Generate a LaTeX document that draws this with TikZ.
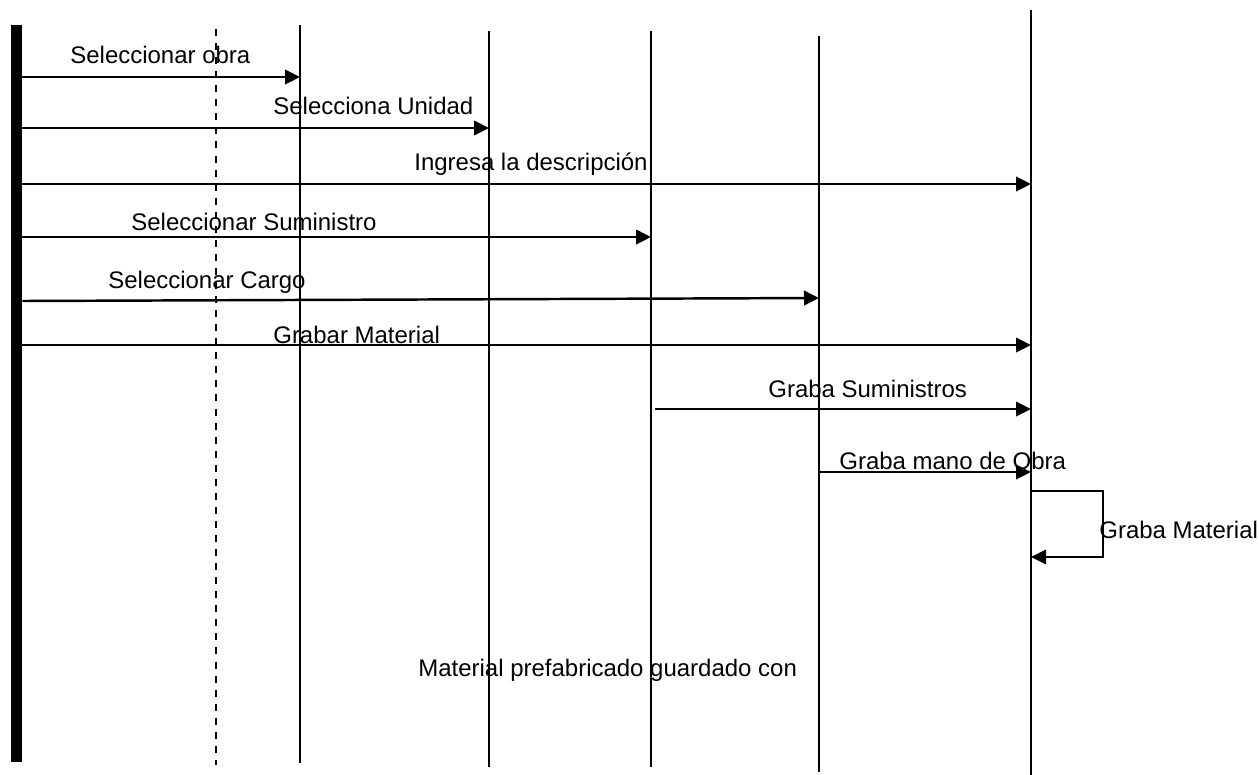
\documentclass[tikz,border=0pt]{standalone}
\usepackage{fontspec}
\setmainfont{Liberation Sans}
\usetikzlibrary{arrows.meta, positioning}

\tikzset{
    lifeline/.style={line width=1.1pt, black},
    msg/.style={-{Triangle[length=0.3cm, width=0.29cm]}, line width=1.4pt},
    selfmsg/.style={-{Triangle[length=0.3cm, width=0.29cm]}, line width=1pt},
    msglabel/.style={anchor=base west, inner sep=0pt}
}

\begin{document}
\begin{tikzpicture}[x=0.02cm, y=-0.02cm, font=\fontsize{13.65pt}{16pt}\selectfont]
    \useasboundingbox (0,0) rectangle (1259,775);

    % Actor and lifelines
    \node[fill=black, inner sep=0pt, minimum width=0.22cm, minimum height=14.74cm] (actor) at (16.5,393.5) {};
    \draw[line width=1.3pt, dash pattern=on 4pt off 4pt] (216,29) coordinate (interfaz) -- (216,765);
    \foreach \name/\x/\top/\bot in {obra/300/25/763, unidad/489/31/767, suministro/651/31/767,
                                    cargo/819/36/772, material/1031/10/775} {
        \coordinate (\name) at (\x,\top);
        \draw[lifeline] (\name) -- (\x,\bot);
    }

    % Messages
    \draw[msg] (actor.east |- 0,77) -- (obra |- 0,77);
    \node[msglabel] (lblObra) at (70,63) {Seleccionar obra};

    \draw[msg] (actor.east |- 0,128) -- (unidad |- 0,128);
    \node[msglabel] (lblUnidad) at (273,114) {Selecciona Unidad};

    \draw[msg] (actor.east |- 0,184) -- (material |- 0,184);
    \node[msglabel] (lblDescripcion) at (414,170) {Ingresa la descripción};

    \draw[msg] (actor.east |- 0,237) -- (suministro |- 0,237);
    \node[msglabel] (lblSuministro) at (131,230) {Seleccionar Suministro};

    \draw[msg] (actor.east |- 0,301) -- (cargo |- 0,298);
    \node[msglabel] (lblCargo) at (108,288) {Seleccionar Cargo};

    \draw[msg] (actor.east |- 0,345) -- (material |- 0,345);
    \node[msglabel] (lblGrabar) at (273,343) {Grabar Material};

    \draw[msg] ([xshift=2pt]suministro |- 0,409) -- (material |- 0,409);
    \node[msglabel] (lblGrabaSum) at (768,397) {Graba Suministros};

    \draw[msg] (cargo |- 0,472) -- (material |- 0,472);
    \node[msglabel] (lblManoObra) at (839,469) {Graba mano de Obra};

    % Self-loop
    \draw[selfmsg] (material |- 0,491) -- (1103,491) -- (1103,557) -- (material |- 0,557);
    \node[msglabel] (lblGrabaMat) at (1099,538) {Graba Material};

    \node[msglabel] (nota) at (418,676) {Material prefabricado guardado con};
\end{tikzpicture}
\end{document}
